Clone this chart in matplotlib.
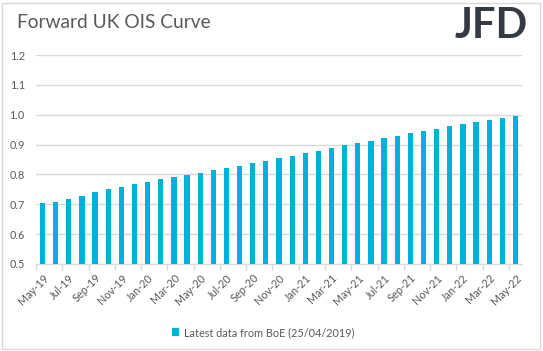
import matplotlib.pyplot as plt
from matplotlib.patches import Rectangle
import numpy as np

plt.rcParams['font.family'] = ['Lato', 'DejaVu Sans']

# Data
months = ["May-19", "Jun-19", "Jul-19", "Aug-19", "Sep-19", "Oct-19", "Nov-19", "Dec-19",
          "Jan-20", "Feb-20", "Mar-20", "Apr-20", "May-20", "Jun-20", "Jul-20", "Aug-20",
          "Sep-20", "Oct-20", "Nov-20", "Dec-20", "Jan-21", "Feb-21", "Mar-21", "Apr-21",
          "May-21", "Jun-21", "Jul-21", "Aug-21", "Sep-21", "Oct-21", "Nov-21", "Dec-21",
          "Jan-22", "Feb-22", "Mar-22", "Apr-22", "May-22"]
ois = [0.704, 0.708, 0.718, 0.729, 0.742, 0.751, 0.759, 0.768, 0.775, 0.785,
       0.791, 0.798, 0.805, 0.816, 0.823, 0.829, 0.838, 0.845, 0.856, 0.863,
       0.872, 0.880, 0.889, 0.899, 0.906, 0.913, 0.922, 0.929, 0.939, 0.947,
       0.952, 0.962, 0.969, 0.977, 0.982, 0.989, 0.996]
yticks = [0.5, 0.6, 0.7, 0.8, 0.9, 1.0, 1.1, 1.2]

bar_col = "#00B2DA"
txt_col = "#595959"
grid_col = "#D9D9D9"

fig = plt.figure(figsize=(5.43, 3.51), dpi=100)
ax = fig.add_axes([0.0663, 0.248, 0.895, 0.595])

x = np.arange(len(months))
bars = ax.bar(x, ois, width=0.4, color=bar_col, zorder=3,
              label="Latest data from BoE (25/04/2019)")

ax.set_ylim(0.5, 1.2)
ax.set_xlim(-0.5, len(months) - 0.5)
ax.set_yticks(yticks)
ax.set_yticklabels(["%.1f" % v for v in yticks])
ax.yaxis.grid(True, color=grid_col, linewidth=1, zorder=0)
ax.tick_params(axis="y", length=0, labelsize=7.8, labelcolor=txt_col, pad=8)

# x ticks: labels every 2 months, tick marks between categories
ax.set_xticks(x[::2])
ax.set_xticklabels(months[::2], rotation=45, ha="right", rotation_mode="anchor")
ax.tick_params(axis="x", length=0, labelsize=7.8, labelcolor=txt_col, pad=6)
ax.set_xticks(np.arange(-0.5, len(months), 2), minor=True)
ax.tick_params(axis="x", which="minor", length=4, color=grid_col, width=1)

for s in ["top", "left", "right"]:
    ax.spines[s].set_visible(False)
ax.spines["bottom"].set_color(grid_col)

fig.text(0.031, 0.935, "Forward UK OIS Curve", fontsize=13.8, color=txt_col,
         va="center", ha="left")
fig.text(0.972, 0.925, "JFD", fontsize=30, color="#343A42", fontweight="bold",
         va="center", ha="right")

ax.legend(loc="upper center", bbox_to_anchor=(0.467, -0.255), frameon=False,
          fontsize=7.8, labelcolor=txt_col, handlelength=0.7, handleheight=0.7,
          handletextpad=0.4)

# chart border
fig.patches.append(Rectangle((0.004, 0.006), 0.99, 0.986, transform=fig.transFigure,
                             fill=False, edgecolor=grid_col, linewidth=1))

fig.savefig("out.png", dpi=100)
